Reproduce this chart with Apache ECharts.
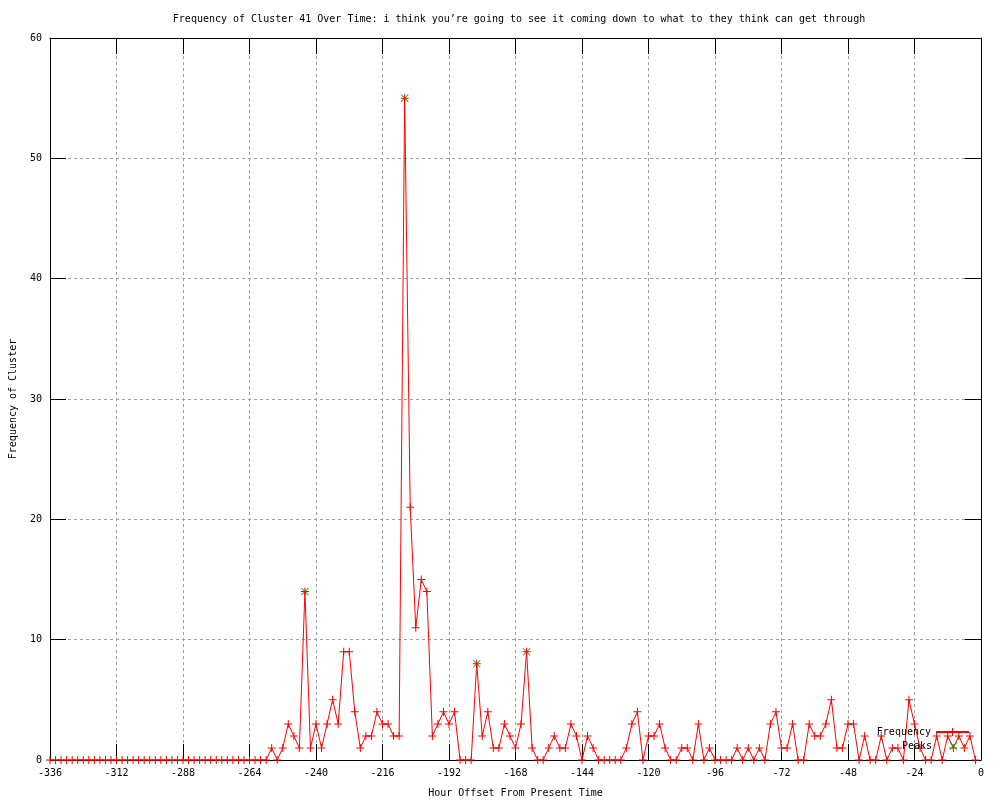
<!DOCTYPE html>
<html>
<head>
<meta charset="utf-8">
<script src="https://cdn.jsdelivr.net/npm/echarts@6/dist/echarts.min.js"></script>
<style>
  html, body { margin: 0; background: #fff; }
  #chart { width: 1000px; height: 800px; }
</style>
</head>
<body>
<div id="chart"></div>
<script>
// hour offsets, every 2 hours
const hours = [
  -336, -334, -332, -330, -328, -326, -324, -322, -320, -318,
  -316, -314, -312, -310, -308, -306, -304, -302, -300, -298,
  -296, -294, -292, -290, -288, -286, -284, -282, -280, -278,
  -276, -274, -272, -270, -268, -266, -264, -262, -260, -258,
  -256, -254, -252, -250, -248, -246, -244, -242, -240, -238,
  -236, -234, -232, -230, -228, -226, -224, -222, -220, -218,
  -216, -214, -212, -210, -208, -206, -204, -202, -200, -198,
  -196, -194, -192, -190, -188, -186, -184, -182, -180, -178,
  -176, -174, -172, -170, -168, -166, -164, -162, -160, -158,
  -156, -154, -152, -150, -148, -146, -144, -142, -140, -138,
  -136, -134, -132, -130, -128, -126, -124, -122, -120, -118,
  -116, -114, -112, -110, -108, -106, -104, -102, -100, -98,
  -96, -94, -92, -90, -88, -86, -84, -82, -80, -78,
  -76, -74, -72, -70, -68, -66, -64, -62, -60, -58,
  -56, -54, -52, -50, -48, -46, -44, -42, -40, -38,
  -36, -34, -32, -30, -28, -26, -24, -22, -20, -18,
  -16, -14, -12, -10, -8, -6, -4, -2
]
const frequency = [
  0, 0, 0, 0, 0, 0, 0, 0, 0, 0,
  0, 0, 0, 0, 0, 0, 0, 0, 0, 0,
  0, 0, 0, 0, 0, 0, 0, 0, 0, 0,
  0, 0, 0, 0, 0, 0, 0, 0, 0, 0,
  1, 0, 1, 3, 2, 1, 14, 1, 3, 1,
  3, 5, 3, 9, 9, 4, 1, 2, 2, 4,
  3, 3, 2, 2, 55, 21, 11, 15, 14, 2,
  3, 4, 3, 4, 0, 0, 0, 8, 2, 4,
  1, 1, 3, 2, 1, 3, 9, 1, 0, 0,
  1, 2, 1, 1, 3, 2, 0, 2, 1, 0,
  0, 0, 0, 0, 1, 3, 4, 0, 2, 2,
  3, 1, 0, 0, 1, 1, 0, 3, 0, 1,
  0, 0, 0, 0, 1, 0, 1, 0, 1, 0,
  3, 4, 1, 1, 3, 0, 0, 3, 2, 2,
  3, 5, 1, 1, 3, 3, 0, 2, 0, 0,
  2, 0, 1, 1, 0, 5, 3, 1, 0, 0,
  2, 0, 2, 1, 2, 1, 2, 0
]
const peakHours = [-244, -208, -182, -164]
const peakValues = [14, 55, 8, 9]

const FONT = "DejaVu Sans Mono"
const plusIcon = "path://M0,3.5h8v1h-8z M3.5,0h1v8h-1z"
const crossIcon = "path://M0,0.8L0.8,0L8,7.2L7.2,8Z M7.2,0L8,0.8L0.8,8L0,7.2Z"
// same cross, centred in a 33x10 legend box (tiny corner dots fix the box)
const crossLegend = "path://M0,0h0.01v0.01h-0.01z M32.99,9.99h0.01v0.01h-0.01z " +
  "M12.5,1.8L13.3,1L20.5,8.2L19.7,9Z M19.7,1L20.5,1.8L13.3,9L12.5,8.2Z"

const myChart = echarts.init(document.getElementById("chart"))

const gridLine = { show: true, lineStyle: { color: "#a0a0a0", type: [3, 3], width: 1 } }
const blackLine = { show: true, onZero: false, lineStyle: { color: "#000", width: 1 } }
const inTick = { show: true, inside: true, length: 16, lineStyle: { color: "#000" } }
const label = { fontFamily: FONT, fontSize: 10, color: "#000" }

myChart.setOption({
  animation: false,
  backgroundColor: "#fff",
  title: {
    text: "Frequency of Cluster 41 Over Time: i think you\u2019re going to see it coming down to what to they think can get through",
    left: 514,
    textAlign: "center",
    top: 9,
    textStyle: { fontFamily: FONT, fontSize: 10, fontWeight: "normal", color: "#000" }
  },
  legend: [
    {
      data: ["Frequency"],
      right: 30,
      top: 727,
      align: "right",
      itemWidth: 33,
      itemHeight: 10,
      padding: 0,
      selectedMode: false,
      textStyle: label
    },
    {
      data: [{ name: "Peaks", icon: crossLegend }],
      right: 30,
      top: 741,
      align: "right",
      itemWidth: 33,
      itemHeight: 10,
      padding: 0,
      selectedMode: false,
      textStyle: label
    }
  ],
  grid: { left: 50, right: 19, top: 38, bottom: 40, containLabel: false, outerBoundsMode: "none" },
  xAxis: [
    {
      type: "value",
      min: -336,
      max: 0,
      interval: 24,
      name: "Hour Offset From Present Time",
      nameLocation: "middle",
      nameGap: 28,
      nameTextStyle: label,
      axisLine: blackLine,
      axisTick: inTick,
      axisLabel: Object.assign({ margin: 8 }, label),
      splitLine: gridLine
    },
    {
      type: "value",
      position: "top",
      min: -336,
      max: 0,
      interval: 24,
      axisLine: blackLine,
      axisTick: inTick,
      axisLabel: { show: false },
      splitLine: { show: false }
    }
  ],
  yAxis: [
    {
      type: "value",
      min: 0,
      max: 60,
      interval: 10,
      name: "Frequency of Cluster",
      nameLocation: "middle",
      nameGap: 32,
      nameTextStyle: label,
      axisLine: blackLine,
      axisTick: inTick,
      axisLabel: Object.assign({ margin: 8 }, label),
      splitLine: gridLine
    },
    {
      type: "value",
      position: "right",
      min: 0,
      max: 60,
      interval: 10,
      axisLine: blackLine,
      axisTick: inTick,
      axisLabel: { show: false },
      splitLine: { show: false }
    }
  ],
  series: [
    {
      name: "Peaks",
      type: "scatter",
      data: peakHours.map((h, i) => [h, peakValues[i]]),
      symbol: crossIcon,
      symbolSize: 8,
      symbolKeepAspect: true,
      itemStyle: { color: "#00b000" },
      z: 2
    },
    {
      name: "Frequency",
      type: "line",
      data: hours.map((h, i) => [h, frequency[i]]),
      symbol: plusIcon,
      symbolSize: 8,
      showAllSymbol: true,
      lineStyle: { color: "#ff0000", width: 1 },
      itemStyle: { color: "#ff0000" },
      z: 3
    }
  ]
})
</script>
</body>
</html>
